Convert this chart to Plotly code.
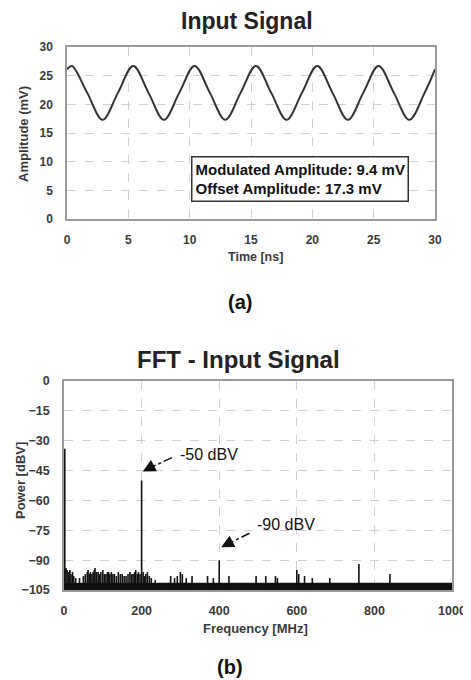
import plotly.graph_objects as go

# ---------------- Data: (a) Input signal ----------------
time_ns = [0, 0.4, 1.65, 2.9, 4.15, 5.4, 6.65, 7.9, 9.15, 10.4, 11.65, 12.9, 14.15,
           15.4, 16.65, 17.9, 19.15, 20.4, 21.65, 22.9, 24.15, 25.4, 26.65, 27.9,
           29.15, 30]
amplitude_mv = [26.1, 26.7, 22.0, 17.3, 22.0, 26.7, 22.0, 17.3, 22.0, 26.7, 22.0, 17.3,
                22.0, 26.7, 22.0, 17.3, 22.0, 26.7, 22.0, 17.3, 22.0, 26.7, 22.0, 17.3,
                22.0, 26.1]
time_ticks = [0, 5, 10, 15, 20, 25, 30]
amp_ticks = [0, 5, 10, 15, 20, 25, 30]
box_lines = ["Modulated Amplitude: 9.4 mV", "Offset Amplitude: 17.3 mV"]

# ---------------- Data: (b) FFT ----------------
spike_freq_mhz = [2, 200, 400, 760, 840, 600, 605, 425, 370, 385, 495, 520, 545, 550,
                  620, 640, 685, 275, 285, 292, 300, 305, 315, 330,
                  5, 8, 12, 15, 18, 22, 25, 30, 40, 50, 55, 60, 62, 66, 68, 72, 75, 78,
                  80, 84, 88, 92, 95, 100, 104, 108, 112, 115, 118, 122, 126, 130, 135,
                  140, 145, 150, 155, 160, 165, 170, 174, 178, 182, 185, 189, 192, 196,
                  204, 207, 211, 215, 220, 225, 235]
spike_level_dbv = [-34, -50, -90, -92, -97, -95, -97, -98, -98, -99, -98, -98, -98, -99,
                   -98, -99, -99, -98, -99, -98, -96, -97, -99, -98,
                   -94, -95, -96, -95, -97, -96, -98, -99, -99, -98, -97, -96, -95, -97,
                   -96, -97, -96, -95, -94, -96, -96, -97, -96, -95, -97, -97, -96, -96,
                   -97, -96, -97, -97, -98, -96, -97, -97, -98, -98, -97, -96, -97, -97,
                   -96, -95, -97, -96, -97, -96, -98, -97, -96, -98, -99, -100]
noise_floor_top = -101.5
noise_floor_bottom = -105
freq_ticks = [0, 200, 400, 600, 800, 1000]
power_ticks = [0, -15, -30, -45, -60, -75, -90, -105]

# ---------------- Build spike trace ----------------
fx, fy = [], []
for f, lv in zip(spike_freq_mhz, spike_level_dbv):
    fx += [f, f, None]
    fy += [noise_floor_bottom, lv, None]

# page body has an 8px default margin; size the figure to fit the 471x680 window
OFF = 8
W, H = 471 - OFF, 680 - OFF


def px(x):
    return (x - OFF) / W


def py(y):
    return 1 - (y - OFF) / H


FONT = "Liberation Sans, Arial, sans-serif"
FRAME = "#9a9a9a"
GRID = "#d0d0d0"

fig = go.Figure()

fig.add_trace(go.Scatter(x=time_ns, y=amplitude_mv, mode="lines",
                         line=dict(color="#333333", width=2, shape="spline", smoothing=1.0),
                         xaxis="x", yaxis="y", showlegend=False, hoverinfo="skip"))

# noise floor band
fig.add_trace(go.Scatter(x=[0, 1000, 1000, 0, 0],
                         y=[noise_floor_top, noise_floor_top, noise_floor_bottom,
                            noise_floor_bottom, noise_floor_top],
                         mode="lines", fill="toself", fillcolor="#111111",
                         line=dict(color="#111111", width=0.5),
                         xaxis="x2", yaxis="y2", showlegend=False, hoverinfo="skip"))
fig.add_trace(go.Scatter(x=fx, y=fy, mode="lines",
                         line=dict(color="#111111", width=1.6),
                         xaxis="x2", yaxis="y2", showlegend=False, hoverinfo="skip"))

# dash-dot arrow shafts
fig.add_trace(go.Scatter(x=[278, 212], y=[-38.5, -44.5], mode="lines",
                         line=dict(color="#111111", width=1.5, dash="dashdot"),
                         xaxis="x2", yaxis="y2", showlegend=False, hoverinfo="skip"))
fig.add_trace(go.Scatter(x=[478, 415], y=[-76.5, -82.5], mode="lines",
                         line=dict(color="#111111", width=1.5, dash="dashdot"),
                         xaxis="x2", yaxis="y2", showlegend=False, hoverinfo="skip"))

common = dict(showline=True, linecolor=FRAME, linewidth=1.5, mirror=True,
              showgrid=True, gridcolor=GRID, griddash="dash", gridwidth=1,
              zeroline=False, ticks="outside", tickcolor="rgba(0,0,0,0)",
              automargin=False)
tf_top = dict(family=FONT, size=12, color="#3a3a3a", weight="bold")
tf_bot = dict(family=FONT, size=12.5, color="#3a3a3a", weight="bold")

fig.update_layout(
    template="none",
    width=W, height=H,
    margin=dict(l=0, r=0, t=0, b=0),
    paper_bgcolor="white", plot_bgcolor="white",
    xaxis=dict(domain=[px(67), px(435)], anchor="y", range=[0, 30],
               tickvals=time_ticks, ticklen=9, tickfont=tf_top, **common),
    yaxis=dict(domain=[py(219), py(47)], anchor="x", range=[0, 30],
               tickvals=amp_ticks, ticklen=10, tickfont=tf_top, **common),
    xaxis2=dict(domain=[px(64), px(452)], anchor="y2", range=[0, 1000],
                tickvals=freq_ticks, ticklen=8, tickfont=tf_bot, **common),
    yaxis2=dict(domain=[py(590), py(381)], anchor="x2", range=[-105, 0],
                tickvals=power_ticks, ticklen=10, tickfont=tf_bot, **common),
)


def ptext(text, x, y, size, color="#222222", bold=True, angle=0):
    return dict(text=("<b>%s</b>" % text) if bold else text, x=px(x), y=py(y),
                xref="paper", yref="paper", showarrow=False, textangle=angle,
                xanchor="center", yanchor="middle",
                font=dict(family=FONT, size=size, color=color))


ann = [
    ptext("Input Signal", 247, 21, 23),
    ptext("FFT - Input Signal", 238, 359, 24),
    ptext("(a)", 240, 302, 20, "#111111"),
    ptext("(b)", 230, 667, 20, "#111111"),
    ptext("Time [ns]", 255, 257, 12.5, "#3a3a3a"),
    ptext("Amplitude (mV)", 23, 134, 13, "#3a3a3a", angle=-90),
    ptext("Frequency [MHz]", 255, 628, 13, "#3a3a3a"),
    ptext("Power [dBV]", 20, 481, 13, "#3a3a3a", angle=-90),
]
ann.append(dict(text="<b>" + "<br>".join(box_lines) + "</b>", x=10.1, y=7.0,
                xref="x", yref="y", xanchor="left", yanchor="middle", align="left",
                showarrow=False, bordercolor="#333333", borderwidth=1.5, borderpad=3,
                bgcolor="white", font=dict(family=FONT, size=15, color="#111111")))
ann.append(dict(text="-50 dBV", x=374, y=-37, xref="x2", yref="y2", showarrow=False,
                font=dict(family=FONT, size=16, color="#111111")))
ann.append(dict(text="-90 dBV", x=572, y=-72, xref="x2", yref="y2", showarrow=False,
                font=dict(family=FONT, size=16, color="#111111")))
# arrow heads
ann.append(dict(text="", x=203, y=-45.5, ax=222, ay=-43.5, xref="x2", yref="y2",
                axref="x2", ayref="y2", showarrow=True, arrowhead=2, arrowsize=1.7,
                arrowwidth=1.5, arrowcolor="#111111"))
ann.append(dict(text="", x=405, y=-83.5, ax=425, ay=-81.5, xref="x2", yref="y2",
                axref="x2", ayref="y2", showarrow=True, arrowhead=2, arrowsize=1.7,
                arrowwidth=1.5, arrowcolor="#111111"))
fig.update_layout(annotations=ann)

fig.write_html("out.html")
